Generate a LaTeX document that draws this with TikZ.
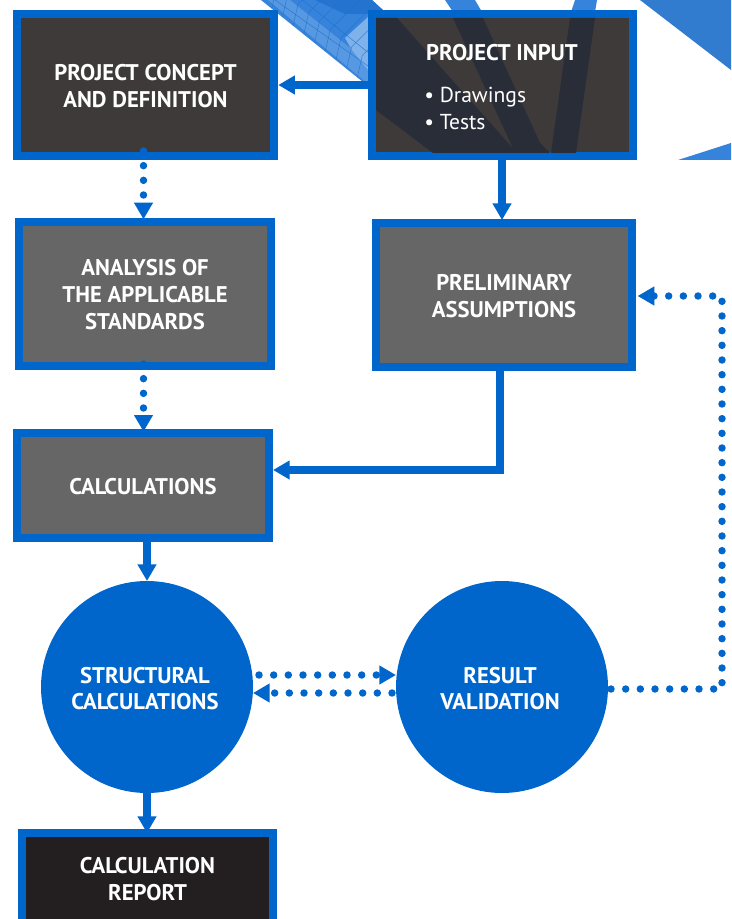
\documentclass[tikz,border=0pt]{standalone}
\usepackage{fontspec}
\setmainfont{PT Sans}
\usetikzlibrary{arrows.meta,calc}
\definecolor{flowblue}{HTML}{0066CC}
\definecolor{meshblue}{HTML}{3583DA}
\definecolor{meshlight}{HTML}{7FB2EA}
\definecolor{meshdark}{HTML}{1F6FCC}
\definecolor{darkbox}{HTML}{3E3A3A}
\definecolor{midbox}{HTML}{666666}
\definecolor{blackbox}{HTML}{231F20}
\definecolor{bandnavy}{HTML}{292D38}
\newcommand{\boxdrop}{\rule{0pt}{13.5pt}}
\newcommand{\discdrop}{\rule{0pt}{15pt}}
\newcommand{\discpad}{\hspace*{3pt}}
\tikzset{
  x=0.75pt,y=-0.75pt,
  flowbox/.style={draw=flowblue,line width=6pt,outer sep=0pt,inner sep=0pt,text=white,align=center,font=\fontsize{17pt}{20.2pt}\selectfont\bfseries},
  flowdisc/.style={circle,fill=flowblue,outer sep=0pt,inner sep=0pt,minimum size=159pt,text=white,align=center,font=\fontsize{17pt}{19.5pt}\selectfont\bfseries},
  solidarrow/.style={draw=flowblue,line width=5.4pt,-{Triangle[length=12.5pt,width=13.5pt]}},
  dotarrow/.style={draw=flowblue,line width=5.6pt,line cap=round,dash pattern=on 0pt off 11pt,-{Triangle[length=12.5pt,width=13.5pt]}},
  meshline/.style={draw=meshdark,line width=.4pt,opacity=.7},
}
\begin{document}
\begin{tikzpicture}
\useasboundingbox (0,0) rectangle (731,919);
\clip (0,0) rectangle (731,919);
% background mesh bands
\begin{scope}
\clip (261,0) -- (372,0) -- (383,10) -- (383,95) -- (368,86) -- cycle;
\fill[meshblue] (255,0) rectangle (385,100);
\fill[meshdark,opacity=.75] (315,0) -- (372,0) -- (383,10) -- (383,14) -- (345,14) -- cycle;
\fill[meshlight,opacity=.45] (261,0) -- (368,86) -- (350,86) -- (255,8) -- cycle;
\fill[meshlight,opacity=.45] (268,0) -- (290,0) -- (368,62) -- (368,84) -- cycle;
\fill[meshlight] (368,17) -- (345,38) -- (352,50) -- (368,70) -- cycle;
\foreach \t in {0,0.1,...,1.05}{
  \draw[meshline] ({261+107*\t},{86*\t}) -- ++(5,-22) -- ++(40,-40);
}
\draw[meshline] (261,-10) -- (368,66);
\draw[meshline] (290,-10) -- (380,62);
\end{scope}
\fill[meshblue] (445,0) -- (475,0) -- (482,12) -- (453,12) -- cycle;
\fill[meshblue] (575,0) -- (597,0) -- (595,12) -- (571,12) -- cycle;
\fill[meshblue!95!black] (640,0) -- (731,0) -- (731,70) -- cycle;
\fill[meshblue] (678,160) -- (731,143) -- (731,160) -- cycle;
% boxes
\node[flowbox,fill=darkbox,minimum width=257.5*0.75pt,minimum height=142*0.75pt] (concept) at (145.5,85) {\boxdrop PROJECT CONCEPT\\AND DEFINITION};
\node[flowbox,fill=darkbox,minimum width=261*0.75pt,minimum height=142*0.75pt] (input) at (502.5,85) {};
\fill[bandnavy] (376,18) -- (397,18) -- (517,153) -- (433,153) -- (376,110) -- cycle;
\fill[bandnavy] (453,18) -- (483,18) -- (540,143) -- (550,153) -- (515,153) -- cycle;
\fill[bandnavy] (570,18) -- (595,18) -- (576,153) -- (551,153) -- cycle;
\node[text=white,font=\fontsize{17pt}{20pt}\selectfont\bfseries] (inputtitle) at (502,53) {PROJECT INPUT};
\node[text=white,anchor=west,align=left,inner sep=0pt,font=\fontsize{16.2pt}{19.8pt}\selectfont] (inputlist) at (424,108.5) {• Drawings\\• Tests};
\node[flowbox,fill=midbox,minimum width=252*0.75pt,minimum height=144*0.75pt] (standards) at (145,294) {\boxdrop ANALYSIS OF\\THE APPLICABLE\\STANDARDS};
\node[flowbox,fill=midbox,minimum width=256*0.75pt,minimum height=144*0.75pt] (assume) at (504,295) {\boxdrop PRELIMINARY\\ASSUMPTIONS};
\node[flowbox,fill=midbox,minimum width=252*0.75pt,minimum height=105*0.75pt] (calc) at (143,485.5) {\boxdrop CALCULATIONS};
\node[flowbox,fill=blackbox,minimum width=251*0.75pt,minimum height=93*0.75pt] (report) at (147.5,879.5) {CALCULATION\\REPORT};
\node[flowdisc] (struct) at (147,687) {\discdrop STRUCTURAL\discpad\\CALCULATIONS\discpad};
\node[flowdisc] (valid) at (502,687) {\discdrop RESULT\discpad\\VALIDATION\discpad};
% free path points
\coordinate (corner1) at (500,470);
\coordinate (right1) at (722,689);
\coordinate (right2) at (722,296);
% connectors
\draw[solidarrow,shorten >=3pt] (input.west |- 0,85) -- (concept.east |- 0,85);
\draw[solidarrow,shorten >=2.2pt] (input.south -| 502,0) -- (assume.north -| 502,0);
\draw[solidarrow,shorten >=3pt] (assume.south -| 500,0) -- (corner1) -- (calc.east |- corner1);
\draw[solidarrow] (calc.south -| 147,0) -- (struct.north);
\draw[solidarrow] (struct.south) -- (report.north -| 147,0);
\draw[dotarrow,shorten >=2pt] (143.5,151) -- (standards.north -| 143.5,0);
\draw[dotarrow,shorten >=1pt] (143.5,364) -- (calc.north -| 143.5,0);
\draw[dotarrow] (259,675) -- (396,675);
\draw[dotarrow] (392,693) -- (253,693);
\draw[dotarrow,shorten >=4.2pt] (valid.east |- 0,689) ++(3,0) -- (right1) -- (right2) -- (assume.east |- right2);
\end{tikzpicture}
\end{document}
